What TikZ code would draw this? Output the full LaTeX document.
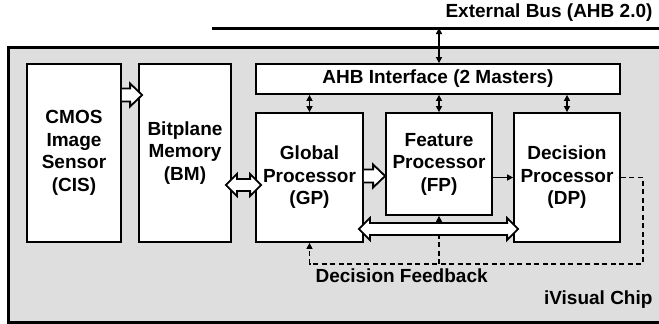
\documentclass[tikz,border=0pt]{standalone}
\usepackage{fontspec}
\setmainfont{Liberation Sans}
\usetikzlibrary{arrows.meta,calc}
\definecolor{chipgray}{HTML}{DEDEDE}
\tikzset{epais/.style={line width=1.8pt}}
\newcommand{\fatone}[2]{\filldraw[fill=white,epais,line join=miter] let \p1=(#1), \p2=(#2) in
	(\x1,\y1+6.5pt) -- (\x2-12pt,\y1+6.5pt) -- (\x2-12pt,\y1+11.5pt) -- (\x2,\y1)
	-- (\x2-12pt,\y1-11.5pt) -- (\x2-12pt,\y1-6.5pt) -- (\x1,\y1-6.5pt)}
\newcommand{\fattwo}[2]{\filldraw[fill=white,epais,line join=miter] let \p1=(#1), \p2=(#2) in
	(\x1,\y1) -- (\x1+11pt,\y1+11pt) -- (\x1+11pt,\y1+6pt) -- (\x2-11pt,\y1+6pt)
	-- (\x2-11pt,\y1+11pt) -- (\x2,\y1) -- (\x2-11pt,\y1-11pt) -- (\x2-11pt,\y1-6pt)
	-- (\x1+11pt,\y1-6pt) -- (\x1+11pt,\y1-11pt) -- cycle}

\begin{document}
\begin{tikzpicture}[x=1pt,y=-1pt,
	font=\fontsize{19}{22.5}\selectfont\bfseries,
	block/.style={draw,epais,fill=white,inner sep=0pt,align=center},
	thin/.style={line width=1.5pt,{Triangle[length=6pt,width=6pt]}-{Triangle[length=6pt,width=6pt]}},
	feedback/.style={line width=1.4pt,dash pattern=on 5pt off 3.5pt,-{Triangle[length=6pt,width=6pt]}}]
\useasboundingbox (0,0) rectangle (659,324);
%The chip and the bus
	\begin{scope}
	\clip (0,0) rectangle (659,324);
	\draw[fill=chipgray,line width=3pt] (8,47) rectangle (680,322);
	\draw[line width=3pt] (212,28) coordinate (busL) -- (680,28) coordinate (busR);
	\end{scope}
	\node[anchor=east] (bus) at (656,13) {External Bus (AHB 2.0)};
	\node[anchor=east] (chip) at (656,300) {iVisual Chip};
%Blocks
	\node[block,minimum width=94pt,minimum height=178pt] (cis) at (74,153) {CMOS\\Image\\Sensor\\(CIS)};
	\node[block,minimum width=92pt,minimum height=178pt] (bm) at (185,153) {Bitplane\\Memory\\(BM)};
	\node[block,minimum width=364pt,minimum height=30pt] (ahb) at (438,79) {AHB Interface (2 Masters)};
	\node[block,minimum width=107pt,minimum height=129pt] (gp) at (309.5,177.5) {Global\\Processor\\(GP)};
	\node[block,minimum width=106pt,minimum height=102pt] (fp) at (439,164) {Feature\\Processor\\(FP)};
	\node[block,minimum width=106pt,minimum height=129pt] (dp) at (567,177.5) {Decision\\Processor\\(DP)};
%Bus links
	\draw[thin] (fp.north |- busL) -- (fp.north |- ahb.north);
	\draw[thin] (ahb.south -| gp.north) -- (gp.north);
	\draw[thin] (ahb.south -| fp.north) -- (fp.north);
	\draw[thin] (ahb.south -| dp.north) -- (dp.north);
%Data paths
	\fatone{$(cis.east)+(0,-58)$}{$(bm.west)+(4,-58)$};
	\fattwo{$(bm.east)+(-6,32)$}{$(gp.west)+(6,32)$};
	\fatone{$(gp.east)+(0,-1.5)$}{$(fp.west)+(0,12)$};
	\draw[line width=1.5pt,-{Triangle[length=6pt,width=6pt]}] (fp.east |- dp.west) -- (dp.west);
%Feedback
	\coordinate (fb) at (643,264);
	\draw[feedback] (dp.east) -| (fb) -| (gp.south);
	\draw[feedback] (fp.south |- fb) -- (fp.south);
	\fattwo{$(gp.east)+(-5,51.5)$}{$(dp.west)+(5,51.5)$};
	\node[anchor=west] (fbl) at (312,276) {Decision Feedback};
\end{tikzpicture}
\end{document}
